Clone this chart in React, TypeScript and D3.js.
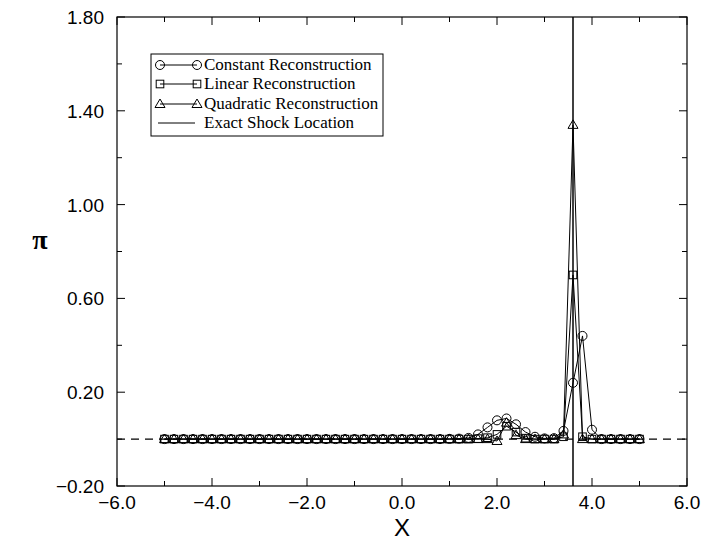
import React from "react";
import * as d3 from "d3";

const xValues = [
  -5.0, -4.8, -4.6, -4.4, -4.2, -4.0, -3.8, -3.6, -3.4, -3.2,
  -3.0, -2.8, -2.6, -2.4, -2.2, -2.0, -1.8, -1.6, -1.4, -1.2,
  -1.0, -0.8, -0.6, -0.4, -0.2, 0.0, 0.2, 0.4, 0.6, 0.8,
  1.0, 1.2, 1.4, 1.6, 1.8, 2.0, 2.2, 2.4, 2.6, 2.8,
  3.0, 3.2, 3.4, 3.6, 3.8, 4.0, 4.2, 4.4, 4.6, 4.8, 5.0,
];

const constantValues = [
  0, 0, 0, 0, 0, 0, 0, 0, 0, 0,
  0, 0, 0, 0, 0, 0, 0, 0, 0, 0,
  0, 0, 0, 0, 0, 0, 0, 0, 0, 0,
  0.001, 0.002, 0.005, 0.02, 0.05, 0.08, 0.088, 0.063, 0.03, 0.01,
  0.003, 0.004, 0.035, 0.24, 0.44, 0.04, 0, 0, 0, 0, 0,
];

const linearValues = [
  0, 0, 0, 0, 0, 0, 0, 0, 0, 0,
  0, 0, 0, 0, 0, 0, 0, 0, 0, 0,
  0, 0, 0, 0, 0, 0, 0, 0, 0, 0,
  0, 0, 0, 0.002, 0.006, 0.02, 0.055, 0.03, 0.004, 0,
  0, 0, 0.01, 0.70, 0.01, 0, 0, 0, 0, 0, 0,
];

const quadraticValues = [
  0, 0, 0, 0, 0, 0, 0, 0, 0, 0,
  0, 0, 0, 0, 0, 0, 0, 0, 0, 0,
  0, 0, 0, 0, 0, 0, 0, 0, 0, 0,
  0, 0, 0, 0, 0, -0.008, 0.07, 0.017, 0, 0,
  0, 0, 0.02, 1.34, 0, 0, 0, 0, 0, 0, 0,
];

const shockLocation = 3.6;

const xMajorTicks = [-6, -4, -2, 0, 2, 4, 6];
const xMinorTicks = [-5, -3, -1, 1, 3, 5];
const xTickLabels = ["\u22126.0", "\u22124.0", "\u22122.0", "0.0", "2.0", "4.0", "6.0"];
const yMajorTicks = [-0.2, 0.2, 0.6, 1.0, 1.4, 1.8];
const yMinorTicks = [0.0, 0.4, 0.8, 1.2, 1.6];
const yTickLabels = ["\u22120.20", "0.20", "0.60", "1.00", "1.40", "1.80"];

const legendLabels = [
  "Constant Reconstruction",
  "Linear Reconstruction",
  "Quadratic Reconstruction",
  "Exact Shock Location",
];

const W = 701;
const H = 541;
const left = 117;
const right = 687;
const top = 17;
const bottom = 486;

export default function App() {
  const x = d3.scaleLinear().domain([-6, 6]).range([left, right]);
  const y = d3.scaleLinear().domain([-0.2, 1.8]).range([bottom, top]);

  const line = d3
    .line<[number, number]>()
    .x((d) => x(d[0]))
    .y((d) => y(d[1]));

  const series = [
    { values: constantValues, marker: "circle" },
    { values: linearValues, marker: "square" },
    { values: quadraticValues, marker: "triangle" },
  ];

  const marker = (type: string, cx: number, cy: number, key: string) => {
    if (type === "circle")
      return <circle key={key} cx={cx} cy={cy} r={4.5} fill="none" stroke="#000" strokeWidth={1} />;
    if (type === "square")
      return <rect key={key} x={cx - 3.8} y={cy - 3.8} width={7.6} height={7.6} fill="none" stroke="#000" strokeWidth={1} />;
    const s = 5;
    return (
      <path
        key={key}
        d={`M${cx},${cy - s} L${cx + s},${cy + s * 0.7} L${cx - s},${cy + s * 0.7} Z`}
        fill="none"
        stroke="#000"
        strokeWidth={1}
      />
    );
  };

  const tickFont = { fontFamily: "'Liberation Sans', Arial, sans-serif", fontSize: 19 };
  const legendFont = { fontFamily: "'Liberation Serif', 'Times New Roman', serif", fontSize: 17 };

  const legendX = 151;
  const legendY = 54;
  const legendRowY = [65, 84, 104, 123];

  return (
    <svg
      width={W}
      height={H}
      style={{ position: "absolute", left: 0, top: 0, background: "#fff" }}
    >
      <rect x={0} y={0} width={W} height={H} fill="#fff" />

      {/* zero dashed line */}
      <line
        x1={left}
        x2={right}
        y1={y(0)}
        y2={y(0)}
        stroke="#000"
        strokeWidth={1.2}
        strokeDasharray="8,6"
      />

      {/* series */}
      {series.map((s, si) => {
        const pts = xValues.map((xv, i) => [xv, s.values[i]] as [number, number]);
        return (
          <g key={si}>
            <path d={line(pts) || ""} fill="none" stroke="#000" strokeWidth={1} />
            {pts.map((p, i) => marker(s.marker, x(p[0]), y(p[1]), `${si}-${i}`))}
          </g>
        );
      })}

      {/* shock location */}
      <line
        x1={x(shockLocation)}
        x2={x(shockLocation)}
        y1={top}
        y2={bottom}
        stroke="#000"
        strokeWidth={1.5}
      />

      {/* frame */}
      <rect
        x={left}
        y={top}
        width={right - left}
        height={bottom - top}
        fill="none"
        stroke="#000"
        strokeWidth={1.2}
      />

      {/* x ticks */}
      {xMajorTicks.map((t, i) => (
        <g key={`xm${i}`}>
          <line x1={x(t)} x2={x(t)} y1={bottom} y2={bottom - 8} stroke="#000" />
          <line x1={x(t)} x2={x(t)} y1={top} y2={top + 8} stroke="#000" />
          <text x={x(t)} y={509} textAnchor="middle" style={tickFont}>
            {xTickLabels[i]}
          </text>
        </g>
      ))}
      {xMinorTicks.map((t, i) => (
        <g key={`xn${i}`}>
          <line x1={x(t)} x2={x(t)} y1={bottom} y2={bottom - 5} stroke="#000" />
          <line x1={x(t)} x2={x(t)} y1={top} y2={top + 5} stroke="#000" />
        </g>
      ))}

      {/* y ticks */}
      {yMajorTicks.map((t, i) => (
        <g key={`ym${i}`}>
          <line x1={left} x2={left + 8} y1={y(t)} y2={y(t)} stroke="#000" />
          <line x1={right} x2={right - 8} y1={y(t)} y2={y(t)} stroke="#000" />
          <text x={104} y={y(t) + 7} textAnchor="end" style={tickFont}>
            {yTickLabels[i]}
          </text>
        </g>
      ))}
      {yMinorTicks.map((t, i) => (
        <g key={`yn${i}`}>
          <line x1={left} x2={left + 5} y1={y(t)} y2={y(t)} stroke="#000" />
          <line x1={right} x2={right - 5} y1={y(t)} y2={y(t)} stroke="#000" />
        </g>
      ))}

      {/* axis titles */}
      <text
        x={(left + right) / 2}
        y={536}
        textAnchor="middle"
        style={{ fontFamily: "'Liberation Sans', Arial, sans-serif", fontSize: 24 }}
      >
        X
      </text>
      <text
        x={40}
        y={249}
        textAnchor="middle"
        style={{ fontFamily: "'Liberation Serif', 'Times New Roman', serif", fontSize: 28, fontWeight: "bold" }}
      >
        π
      </text>

      {/* legend */}
      <rect
        x={legendX}
        y={legendY}
        width={232}
        height={82}
        fill="#fff"
        stroke="#000"
        strokeWidth={1}
      />
      {legendLabels.map((lab, i) => {
        const ry = legendRowY[i];
        const x1 = 160;
        const x2 = 197;
        return (
          <g key={`lg${i}`}>
            <line x1={i === 3 ? 158 : x1} x2={i === 3 ? 195 : x2} y1={ry} y2={ry} stroke="#000" strokeWidth={1} />
            {i < 3 && marker(series[i].marker, x1, ry, `lm${i}a`)}
            {i < 3 && marker(series[i].marker, x2, ry, `lm${i}b`)}
            <text x={204} y={ry + 5} style={legendFont}>
              {lab}
            </text>
          </g>
        );
      })}
    </svg>
  );
}
